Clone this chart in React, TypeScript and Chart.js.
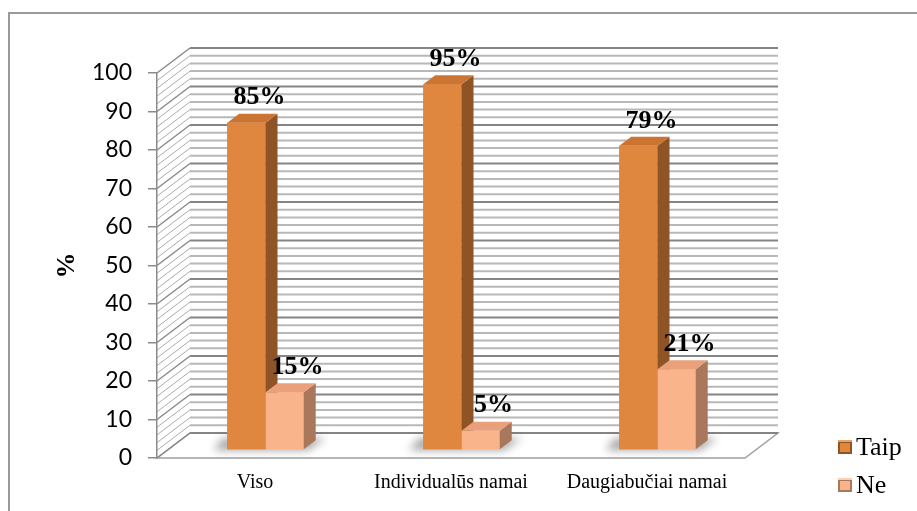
import React, { useEffect, useRef } from "react";
import { Chart, registerables } from "chart.js";

Chart.register(...registerables);

// ---- data ----
const categories = ["Viso", "Individualūs namai", "Daugiabučiai namai"];
const seriesNames = ["Taip", "Ne"];
const taipValues = [85, 95, 79];
const neValues = [15, 5, 21];
const yMin = 0;
const yMax = 100;
const yStep = 10;
const yMinorStep = 2;
const yAxisTitle = "%";

// ---- style ----
const DX = 33; // depth of the floor / walls
const DY = 25;
const BDX = 12; // depth of a bar
const BDY = 9;
const BOX = (DX - BDX) / 2;
const BOY = (DY - BDY) / 2;

const palette = [
  { front: "#DF863F", side: "#8E5426", top: "#CC7533", light: "#F0A060" },
  { front: "#F9B48C", side: "#A8775C", top: "#E9A07B", light: "#FCD0B4" },
];

const SERIF = "'Liberation Serif', 'Times New Roman', serif";

function line(ctx: CanvasRenderingContext2D, x1: number, y1: number, x2: number, y2: number) {
  ctx.beginPath();
  ctx.moveTo(x1, y1);
  ctx.lineTo(x2, y2);
  ctx.stroke();
}

const scenePlugin = {
  id: "scene3d",
  beforeDraw(chart: any) {
    const { ctx, chartArea } = chart;
    const { left: L, right: R, bottom: B } = chartArea;
    const y = chart.scales.y;
    ctx.save();
    // outer frame
    ctx.strokeStyle = "#9a9a9a";
    ctx.lineWidth = 2;
    ctx.beginPath();
    ctx.moveTo(9, 700);
    ctx.lineTo(9, 13);
    ctx.lineTo(1200, 13);
    ctx.stroke();

    // floor
    ctx.beginPath();
    ctx.moveTo(L, B);
    ctx.lineTo(R, B);
    ctx.lineTo(R + DX, B - DY);
    ctx.lineTo(L + DX, B - DY);
    ctx.closePath();
    ctx.fillStyle = "#ffffff";
    ctx.fill();
    ctx.strokeStyle = "#a0a0a0";
    ctx.lineWidth = 1.5;
    ctx.stroke();

    // back wall + side wall lines
    for (let v = yMin; v <= yMax + 1e-9; v += yMinorStep) {
      const py = y.getPixelForValue(v);
      const major = Math.abs(v % yStep) < 1e-9;
      ctx.strokeStyle = major ? "#858585" : "#b8b8b8";
      ctx.lineWidth = 2;
      line(ctx, L + DX, py - DY, R + DX, py - DY);
      ctx.strokeStyle = major ? "#8a8a8a" : "#ababab";
      ctx.lineWidth = major ? 1.5 : 1;
      line(ctx, L, py, L + DX, py - DY);
    }
    ctx.restore();
  },
  beforeDatasetsDraw(chart: any) {
    const { ctx } = chart;
    ctx.save();
    ctx.translate(BOX, -BOY);
    // soft shadows on floor
    const m0 = chart.getDatasetMeta(0);
    const m1 = chart.getDatasetMeta(1);
    ctx.save();
    ctx.filter = "blur(4px)";
    ctx.fillStyle = "rgba(0,0,0,0.35)";
    m0.data.forEach((el: any, i: number) => {
      const e1 = m1.data[i];
      const left = el.x - el.width / 2;
      const right = e1.x + e1.width / 2;
      const base = el.base;
      ctx.beginPath();
      ctx.moveTo(left - 14, base + 1);
      ctx.lineTo(right + 4, base + 1);
      ctx.lineTo(right + BDX + 10, base - BDY - 2);
      ctx.lineTo(left - 4, base - BDY - 2);
      ctx.closePath();
      ctx.fill();
    });
    ctx.restore();
  },
  afterDatasetsDraw(chart: any) {
    const { ctx } = chart;
    const metas = [chart.getDatasetMeta(0), chart.getDatasetMeta(1)];
    const n = metas[0].data.length;
    for (let i = 0; i < n; i++) {
      metas.forEach((meta: any, d: number) => {
        const el = meta.data[i];
        const c = palette[d];
        const l = el.x - el.width / 2;
        const r = el.x + el.width / 2;
        const t = el.y;
        const b = el.base;
        // front
        ctx.fillStyle = c.front;
        ctx.fillRect(l, t, r - l, b - t);
        // side
        ctx.beginPath();
        ctx.moveTo(r, t);
        ctx.lineTo(r + BDX, t - BDY);
        ctx.lineTo(r + BDX, b - BDY);
        ctx.lineTo(r, b);
        ctx.closePath();
        ctx.fillStyle = c.side;
        ctx.fill();
        // top
        ctx.beginPath();
        ctx.moveTo(l, t);
        ctx.lineTo(l + BDX, t - BDY);
        ctx.lineTo(r + BDX, t - BDY);
        ctx.lineTo(r, t);
        ctx.closePath();
        ctx.fillStyle = c.top;
        ctx.fill();
      });
    }
    ctx.restore();

    // data labels
    ctx.save();
    ctx.font = `bold 26px ${SERIF}`;
    ctx.fillStyle = "#000";
    ctx.textAlign = "center";
    ctx.textBaseline = "middle";
    metas.forEach((meta: any, d: number) => {
      const values = chart.data.datasets[d].data;
      meta.data.forEach((el: any, i: number) => {
        ctx.fillText(`${values[i]}%`, el.x + BOX + 13, el.y - BOY - 25);
      });
    });
    ctx.restore();
  },
  afterDraw(chart: any) {
    const { ctx } = chart;
    ctx.save();
    ctx.font = `26px ${SERIF}`;
    ctx.textBaseline = "middle";
    ctx.textAlign = "left";
    chart.data.datasets.forEach((ds: any, d: number) => {
      const c = palette[d];
      const cy = 447 + d * 38;
      const x0 = 838;
      const s = 14;
      const y0 = cy - s / 2;
      // bevelled icon
      ctx.fillStyle = c.side;
      ctx.fillRect(x0, y0, s, s);
      ctx.fillStyle = c.light;
      ctx.fillRect(x0, y0, s, 2);
      ctx.fillStyle = c.front;
      ctx.fillRect(x0 + 2, y0 + 3, s - 4, s - 5);
      ctx.fillStyle = "#000";
      ctx.fillText(ds.label, x0 + s + 4, cy + 1);
    });
    ctx.restore();
  },
};

export default function App() {
  const ref = useRef<HTMLCanvasElement | null>(null);
  useEffect(() => {
    if (!ref.current) return;
    const chart = new Chart(ref.current, {
      type: "bar",
      data: {
        labels: categories,
        datasets: [
          { label: seriesNames[0], data: taipValues, backgroundColor: palette[0].front },
          { label: seriesNames[1], data: neValues, backgroundColor: palette[1].front },
        ],
      },
      options: {
        responsive: false,
        animation: false,
        devicePixelRatio: 1,
        layout: { padding: { left: 0, right: 172, top: 73, bottom: 0 } },
        datasets: { bar: { categoryPercentage: 0.39, barPercentage: 1.0 } },
        plugins: { legend: { display: false }, tooltip: { enabled: false } },
        scales: {
          x: {
            grid: { display: false, drawTicks: false },
            border: { display: false },
            ticks: { color: "#000", font: { family: SERIF, size: 20 }, padding: 13, maxRotation: 0 },
            afterFit: (s: any) => { s.height = 53; },
          },
          y: {
            min: yMin,
            max: yMax,
            ticks: { stepSize: yStep, color: "#000", font: { family: "Lato", size: 23 }, padding: 16 },
            grid: { drawOnChartArea: false, drawTicks: true, tickLength: 9, color: "#8a8a8a", lineWidth: 1.5 },
            border: { display: true, color: "#8a8a8a", width: 1.5 },
            title: { display: true, text: yAxisTitle, color: "#000", font: { family: SERIF, size: 26, weight: "bold" }, padding: { top: 52, bottom: 0 } },
            afterFit: (s: any) => { s.width = 157; },
          },
        },
      },
      plugins: [scenePlugin],
    });
    return () => chart.destroy();
  }, []);
  return (
    <div style={{ position: "absolute", left: 0, top: 0, width: 917, height: 511, background: "#fff" }}>
      <canvas ref={ref} width={917} height={511} />
    </div>
  );
}
